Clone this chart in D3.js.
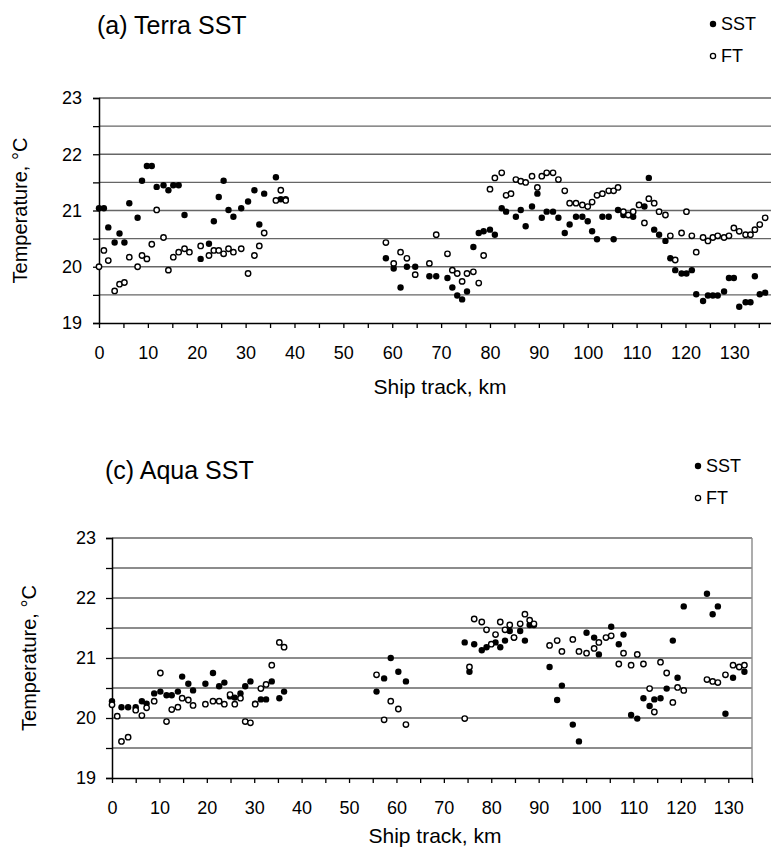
<!DOCTYPE html>
<html>
<head>
<meta charset="utf-8">
<script src="https://cdn.jsdelivr.net/npm/d3@7"></script>
<style>
  html, body { margin: 0; padding: 0; background: #fff; }
  svg text { font-family: "Liberation Sans", Arial, sans-serif; fill: #000; }
</style>
</head>
<body>
<svg id="fig" width="771" height="850"></svg>
<script>
// ---- Panel (a): Terra SST along the ship track ----
const terraSstKm = [0,1.0,1.9,3.2,4.2,5.2,6.2,7.9,8.8,9.8,10.8,11.8,13.2,14.2,15.2,16.3,17.5,20.8,22.5,23.5,24.5,25.5,26.5,27.5,29.1,30.5,31.8,32.8,33.8,36.2,37.2,38.2,
  58.7,60.3,61.7,63.0,64.7,67.6,69.0,71.3,72.3,73.3,74.3,75.3,76.6,77.7,78.7,80.0,81.0,82.4,83.3,85.3,86.3,87.3,88.6,89.7,90.6,91.6,92.9,94.0,95.3,96.3,97.6,98.9,100.0,100.9,101.9,103.0,104.3,105.3,106.2,107.3,109.3,110.5,111.6,112.5,113.6,114.6,115.9,116.9,117.9,119.2,120.2,121.3,122.2,123.6,124.6,125.6,126.6,127.9,128.9,129.9,131.0,132.3,133.3,134.2,135.2,136.3];
const terraSst = [21.04,21.04,20.70,20.43,20.59,20.43,21.13,20.87,21.53,21.79,21.79,21.42,21.45,21.36,21.45,21.45,20.92,20.14,20.41,20.81,21.24,21.53,21.01,20.89,21.04,21.16,21.36,20.75,21.30,21.59,21.20,21.20,
  20.15,19.97,19.63,20.00,20.00,19.83,19.83,19.80,19.63,19.49,19.42,19.56,20.35,20.60,20.63,20.66,20.57,21.04,20.98,20.89,21.01,20.72,21.07,21.30,20.87,20.98,20.98,20.87,20.60,20.75,20.89,20.89,20.81,20.63,20.49,20.89,20.89,20.49,21.01,20.92,20.89,21.10,21.07,21.58,20.66,20.57,20.46,20.15,19.94,19.88,19.88,19.94,19.51,19.39,19.49,19.49,19.49,19.56,19.80,19.80,19.29,19.37,19.37,19.83,19.51,19.54];

const terraFtKm = [0,1.0,1.9,3.2,4.2,5.2,6.2,7.9,8.8,9.8,10.8,11.8,13.2,14.2,15.2,16.3,17.5,18.5,20.8,22.5,23.5,24.5,25.5,26.5,27.5,29.1,30.5,31.8,32.8,33.8,36.2,37.2,38.2,
  58.7,60.3,61.7,63.0,64.7,67.6,69.0,71.3,72.3,73.3,74.3,75.3,76.6,77.7,78.7,80.0,81.0,82.4,83.3,84.3,85.3,86.3,87.3,88.6,89.7,90.6,91.6,92.9,94.0,95.3,96.3,97.6,98.9,100.0,100.9,101.9,103.0,104.3,105.3,106.2,107.3,108.3,109.3,110.5,111.6,112.5,113.6,114.6,115.9,116.9,117.9,119.2,120.2,121.3,122.2,123.6,124.6,125.6,126.6,127.9,128.9,129.9,131.0,132.3,133.3,134.2,135.2,136.3];
const terraFt = [20.00,20.29,20.11,19.57,19.69,19.72,20.17,20.00,20.20,20.14,20.40,21.01,20.52,19.94,20.17,20.26,20.32,20.26,20.37,20.20,20.29,20.29,20.23,20.32,20.26,20.32,19.88,20.20,20.37,20.60,21.18,21.36,21.18,
  20.43,20.06,20.26,20.15,19.86,20.06,20.57,20.23,19.94,19.88,19.74,19.88,19.91,19.71,20.20,21.38,21.58,21.67,21.27,21.30,21.55,21.52,21.50,21.61,21.41,21.61,21.67,21.67,21.55,21.35,21.13,21.13,21.10,21.07,21.15,21.27,21.30,21.35,21.35,21.41,20.98,20.92,20.98,21.10,20.78,21.21,21.13,20.98,20.92,20.55,20.12,20.60,20.98,20.55,20.26,20.52,20.46,20.52,20.55,20.52,20.55,20.69,20.63,20.57,20.57,20.66,20.75,20.87];

// ---- Panel (c): Aqua SST along the ship track ----
const aquaSstKm = [0,2.0,3.4,5.0,6.3,7.3,8.9,10.2,11.5,12.6,13.9,14.8,16.1,17.1,19.7,21.3,22.6,23.7,24.9,25.9,27.1,28.1,29.2,30.2,31.4,32.5,33.7,35.3,36.3,
  55.8,57.4,58.8,60.4,62.0,
  74.4,75.4,76.4,78.0,79.0,80.9,81.9,82.9,83.9,84.8,86.1,87.1,88.1,89.0,
  92.3,93.9,94.9,97.2,98.5,100.1,101.7,102.7,105.3,106.9,107.9,109.5,110.8,112.1,113.4,114.4,115.7,117.0,118.3,119.3,120.6,125.5,126.7,127.8,129.4,131.0,133.4];
const aquaSst = [20.28,20.18,20.18,20.18,20.28,20.24,20.41,20.44,20.38,20.38,20.44,20.69,20.57,20.46,20.57,20.75,20.53,20.59,20.36,20.34,20.41,20.53,20.61,20.24,20.31,20.31,20.61,20.33,20.44,
  20.44,20.66,21.00,20.77,20.61,
  21.26,20.77,21.23,21.13,21.18,21.26,21.18,21.29,21.45,21.34,21.45,21.29,21.55,21.55,
  20.85,20.30,20.54,19.89,19.61,21.42,21.34,21.06,21.52,21.23,21.39,20.05,19.99,20.33,20.20,20.31,20.33,20.49,21.29,20.67,21.86,22.07,21.73,21.86,20.07,20.67,20.77];

const aquaFtKm = [0,1.1,2.0,3.4,5.0,6.3,7.3,8.9,10.2,11.5,12.6,13.9,14.8,16.1,17.1,19.7,21.3,22.6,23.7,24.9,25.9,27.1,28.1,29.2,30.2,31.4,32.5,33.7,35.3,36.3,
  55.8,57.4,58.8,60.4,62.0,
  74.4,75.4,76.4,78.0,79.0,80.0,80.9,81.9,82.9,83.9,84.8,86.1,87.1,88.1,89.0,
  92.3,93.9,94.9,97.2,98.5,100.1,101.7,102.7,104.2,105.3,106.9,107.9,109.5,110.8,112.1,113.4,114.4,115.7,117.0,118.3,119.3,120.6,125.5,126.7,127.8,129.4,131.0,132.3,133.4];
const aquaFt = [20.22,20.03,19.61,19.68,20.13,20.04,20.17,20.28,20.75,19.94,20.14,20.18,20.33,20.30,20.21,20.23,20.28,20.28,20.23,20.39,20.23,20.33,19.94,19.92,20.23,20.49,20.56,20.88,21.26,21.18,
  20.72,19.97,20.28,20.15,19.89,
  19.99,20.85,21.65,21.60,21.47,21.23,21.39,21.60,21.47,21.55,21.34,21.57,21.73,21.63,21.57,
  21.21,21.29,21.11,21.31,21.11,21.08,21.16,21.26,21.34,21.37,20.90,21.08,20.88,21.06,20.90,20.49,20.10,20.93,20.75,20.26,20.51,20.46,20.64,20.61,20.59,20.72,20.88,20.85,20.88];

// Axis ticks shared by both panels
const tempTicks = [19, 19.5, 20, 20.5, 21, 21.5, 22, 22.5, 23];
const trackTicks = d3.range(0, 136, 5);

const svg = d3.select("#fig");

function panel(cfg) {
  const g = svg.append("g");
  const x = d3.scaleLinear().domain(cfg.xDomain).range([cfg.left, cfg.right]);
  const y = d3.scaleLinear().domain([19, 23]).range([cfg.bottom, cfg.top]);

  // horizontal gridlines every 0.5 degC
  g.append("g")
    .selectAll("line")
    .data(tempTicks.slice(1))
    .join("line")
    .attr("x1", cfg.left).attr("x2", cfg.right)
    .attr("y1", d => y(d)).attr("y2", d => y(d))
    .attr("stroke", "#666").attr("stroke-width", 1.4);

  if (cfg.frame) {
    g.append("line")
      .attr("x1", cfg.right).attr("x2", cfg.right)
      .attr("y1", cfg.top).attr("y2", cfg.bottom)
      .attr("stroke", "#8a8a8a").attr("stroke-width", 1.4);
  }

  // left axis
  const yAxis = d3.axisLeft(y)
    .tickValues(tempTicks)
    .tickSize(6)
    .tickPadding(cfg.yPad)
    .tickFormat(d => Number.isInteger(d) ? d3.format("d")(d) : "");
  const ya = g.append("g").attr("transform", `translate(${cfg.left},0)`).call(yAxis);
  ya.select(".domain").attr("stroke", "#000").attr("stroke-width", 1.5);
  ya.selectAll(".tick line").attr("stroke", "#000").attr("stroke-width", 1.3);
  ya.selectAll("text").attr("font-size", 18).attr("font-family", "Liberation Sans, Arial, sans-serif");

  // bottom axis
  const xAxis = d3.axisBottom(x)
    .tickValues(trackTicks)
    .tickSize(5)
    .tickSizeOuter(0)
    .tickPadding(18)
    .tickFormat(d => d % 10 === 0 ? d3.format("d")(d) : "");
  const xa = g.append("g").attr("transform", `translate(0,${cfg.bottom})`).call(xAxis);
  xa.select(".domain").attr("stroke", "#000").attr("stroke-width", 1.5);
  xa.selectAll(".tick line").attr("stroke", "#000").attr("stroke-width", 1.3);
  xa.selectAll("text").attr("font-size", 18).attr("font-family", "Liberation Sans, Arial, sans-serif");

  // measured ship-track SST: filled dots
  g.append("g")
    .selectAll("circle")
    .data(cfg.sstKm.map((k, i) => [k, cfg.sst[i]]))
    .join("circle")
    .attr("cx", d => x(d[0])).attr("cy", d => y(d[1]))
    .attr("r", 3.2).attr("fill", "#000");

  // satellite retrieval: open circles
  g.append("g")
    .selectAll("circle")
    .data(cfg.ftKm.map((k, i) => [k, cfg.ft[i]]))
    .join("circle")
    .attr("cx", d => x(d[0])).attr("cy", d => y(d[1]))
    .attr("r", 2.7).attr("fill", "#fff").attr("stroke", "#000").attr("stroke-width", 1.4);

  // titles
  g.append("text")
    .attr("x", cfg.titleX).attr("y", cfg.titleY)
    .attr("font-size", 25)
    .text(cfg.title);

  g.append("text")
    .attr("x", cfg.xLabelCenter).attr("y", cfg.xLabelY)
    .attr("text-anchor", "middle")
    .attr("font-size", 21)
    .text("Ship track, km");

  g.append("text")
    .attr("transform", `translate(${cfg.yLabelX},${(cfg.top + cfg.bottom) / 2}) rotate(-90)`)
    .attr("text-anchor", "middle")
    .attr("font-size", 20)
    .text("Temperature, °C");

  // legend
  const lg = g.append("g");
  lg.append("circle").attr("cx", cfg.legX).attr("cy", cfg.legY1 - 6).attr("r", 3.2).attr("fill", "#000");
  lg.append("text").attr("x", cfg.legX + 8).attr("y", cfg.legY1).attr("font-size", 18).text("SST");
  lg.append("circle").attr("cx", cfg.legX).attr("cy", cfg.legY2 - 6).attr("r", 2.6)
    .attr("fill", "#fff").attr("stroke", "#000").attr("stroke-width", 1.3);
  lg.append("text").attr("x", cfg.legX + 8).attr("y", cfg.legY2).attr("font-size", 18).text("FT");
}

panel({
  title: "(a) Terra SST",
  titleX: 97, titleY: 34,
  left: 99, right: 771, top: 98, bottom: 323,
  xDomain: [0, 137.5],
  yPad: 11,
  yLabelX: 27,
  xLabelCenter: 440, xLabelY: 394,
  legX: 713, legY1: 30, legY2: 62,
  sstKm: terraSstKm, sst: terraSst, ftKm: terraFtKm, ft: terraFt,
  frame: false
});

panel({
  title: "(c) Aqua SST",
  titleX: 105, titleY: 479,
  left: 112, right: 752, top: 538, bottom: 778,
  xDomain: [0, 135],
  yPad: 10,
  yLabelX: 36,
  xLabelCenter: 435, xLabelY: 843,
  legX: 698, legY1: 472, legY2: 504,
  sstKm: aquaSstKm, sst: aquaSst, ftKm: aquaFtKm, ft: aquaFt,
  frame: true
});
</script>
</body>
</html>
